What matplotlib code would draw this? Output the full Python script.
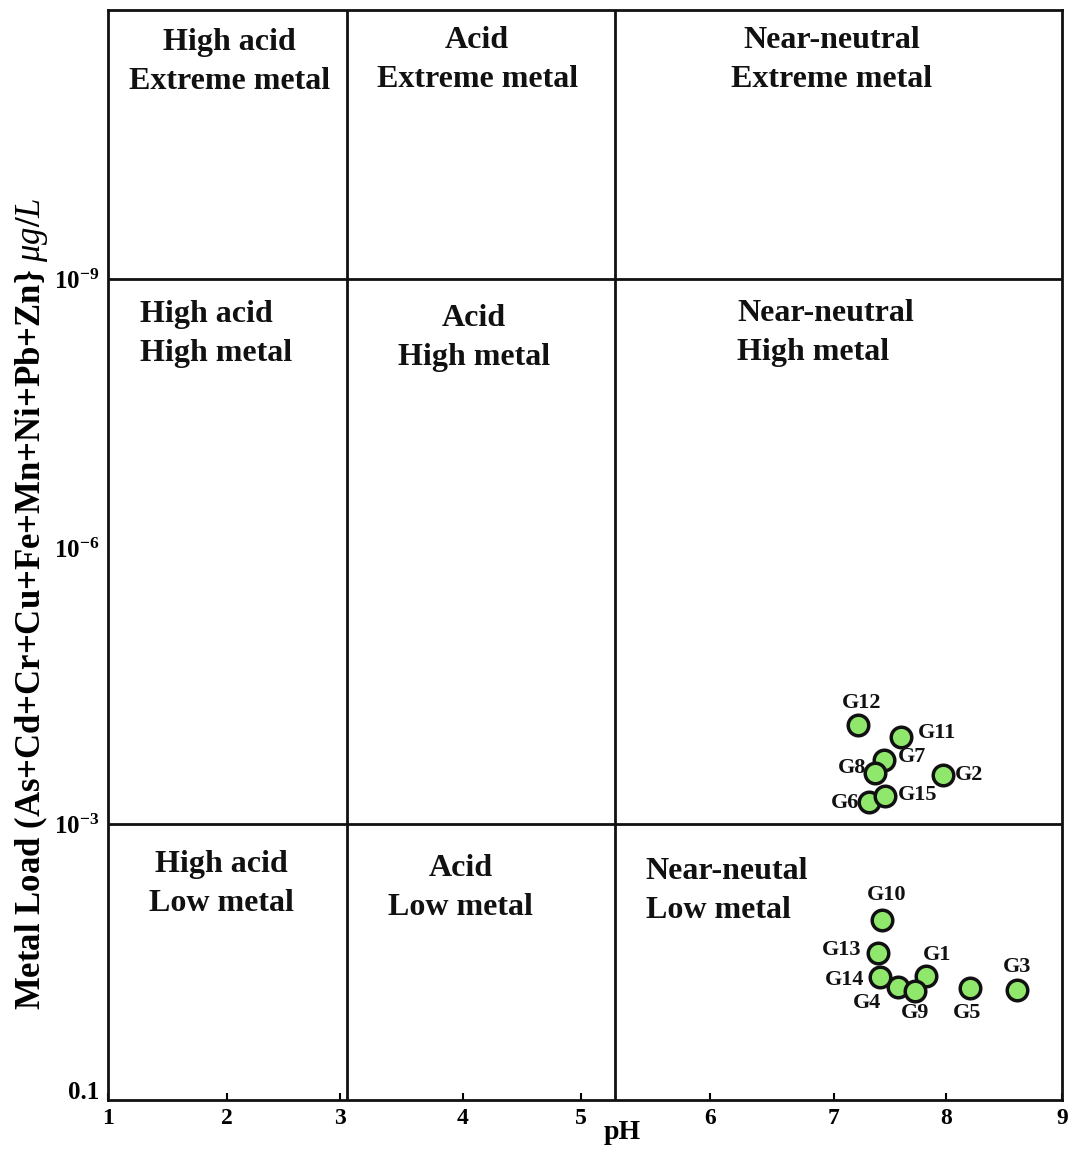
import numpy as np
import matplotlib
matplotlib.use("Agg")
import matplotlib.pyplot as plt
from matplotlib.ticker import FixedLocator, FixedFormatter, NullLocator

# ---------------- data ----------------
samples = ["G1", "G2", "G3", "G4", "G5", "G6", "G7", "G8", "G9", "G10",
           "G11", "G12", "G13", "G14", "G15"]
ph = [7.82, 7.97, 8.61, 7.57, 8.21, 7.31, 7.45, 7.37, 7.72, 7.43,
      7.60, 7.21, 7.39, 7.41, 7.455]
metal_load = [1.39e-2, 2.93e-4, 1.77e-2, 1.69e-2, 1.72e-2, 5.73e-4, 2.01e-4,
              2.81e-4, 1.79e-2, 5.27e-3, 1.12e-4, 8.4e-5, 9.38e-3, 1.41e-2,
              4.97e-4]

x_ticks = [1, 2, 3, 4, 5, 6, 7, 8, 9]
y_ticks = [0.1, 1e-3, 1e-6, 1e-9]
y_tick_labels = ["0.1", r"10$^{\mathbf{-3}}$", r"10$^{\mathbf{-6}}$", r"10$^{\mathbf{-9}}$"]

ph_bounds = [3.06, 5.26]
metal_bounds = [1e-3, 1e-9]

region_texts = [
    ("High acid\nExtreme metal", 2.02, 62, "center"),
    ("Acid\nExtreme metal", 4.12, 60, "center"),
    ("Near-neutral\nExtreme metal", 6.98, 60, "center"),
    ("High acid\nHigh metal", 1.27, 334, "left"),
    ("Acid\nHigh metal", 4.09, 338, "center"),
    ("Near-neutral\nHigh metal", 6.22, 333, "left"),
    ("High acid\nLow metal", 1.95, 884, "center"),
    ("Acid\nLow metal", 3.98, 888, "center"),
    ("Near-neutal\nLow metal", 5.5, 891, "left"),
]

# label offsets in pixels (dx, dy screen-down), alignment
label_pos = {
    "G1": (11, -21, "center"), "G2": (12, 0, "left"), "G3": (0, -23, "center"),
    "G4": (-31, 16, "center"), "G5": (-3, 25, "center"), "G6": (-9, 1, "right"),
    "G7": (13, -3, "left"), "G8": (-9, -5, "right"), "G9": (0, 22, "center"),
    "G10": (4, -25, "center"), "G11": (17, -4, "left"), "G12": (4, -22, "center"),
    "G13": (-16, -3, "right"), "G14": (-16, 3, "right"), "G15": (13, -1, "left"),
}

# ---------------- piecewise scales (matching printed axis) ----------------
X_KNOT_PH = np.array([1, 2, 3, 4, 5, 6, 7, 8, 9], dtype=float)
X_KNOT_PX = np.array([0, 119, 232, 355, 473, 602, 726, 838, 954], dtype=float)

Y_KNOT_E = np.array([0.925, 1.0, 3.0, 6.0, 9.0, 12.0])
Y_KNOT_PX = np.array([0.0, 10.0, 276.0, 552.0, 821.0, 1090.0])


def xf(v):
    v = np.asarray(v, dtype=float)
    return np.interp(v, X_KNOT_PH, X_KNOT_PX, left=-1e3, right=2e3)


def xi(p):
    p = np.asarray(p, dtype=float)
    return np.interp(p, X_KNOT_PX, X_KNOT_PH)


def yf(v):
    v = np.asarray(v, dtype=float)
    with np.errstate(divide="ignore", invalid="ignore"):
        e = -np.log10(np.where(v > 0, v, 1e-300))
    return np.interp(e, Y_KNOT_E, Y_KNOT_PX)


def yi(p):
    p = np.asarray(p, dtype=float)
    e = np.interp(p, Y_KNOT_PX, Y_KNOT_E)
    return 10.0 ** (-e)


plt.rcParams["font.family"] = ["Liberation Serif", "DejaVu Serif"]
plt.rcParams["mathtext.fontset"] = "custom"
plt.rcParams["mathtext.rm"] = "Liberation Serif:bold"
plt.rcParams["mathtext.it"] = "Liberation Serif:italic"
plt.rcParams["mathtext.bf"] = "Liberation Serif:bold"

W, H = 1071, 1155
fig = plt.figure(figsize=(W / 100, H / 100), dpi=100)
L, R, T, B = 108, 1062, 10, 1100
ax = fig.add_axes([L / W, 1 - B / H, (R - L) / W, (B - T) / H])

ax.set_xscale("function", functions=(xf, xi))
ax.set_yscale("function", functions=(yf, yi))
ax.set_xlim(1, 9)
ax.set_ylim(1e-12, 10 ** -0.925)

lw = 2.0
for s in ax.spines.values():
    s.set_linewidth(lw)
    s.set_color("#111111")

ax.xaxis.set_major_locator(FixedLocator(x_ticks))
ax.xaxis.set_major_formatter(FixedFormatter([str(t) for t in x_ticks]))
ax.xaxis.set_minor_locator(NullLocator())
ax.yaxis.set_major_locator(FixedLocator(y_ticks))
ax.yaxis.set_major_formatter(FixedFormatter(y_tick_labels))
ax.yaxis.set_minor_locator(NullLocator())
ax.tick_params(axis="x", direction="in", length=5, width=1.5, pad=6,
               labelsize=17)
ax.tick_params(axis="y", length=0, pad=6, labelsize=18)
for lab in ax.get_xticklabels() + ax.get_yticklabels():
    lab.set_fontweight("bold")

# dividers
for b in ph_bounds:
    ax.axvline(b, color="#111111", lw=lw)
for b in metal_bounds:
    ax.axhline(b, color="#111111", lw=lw)

# region labels (y given in pixels from top of figure)
for txt, xv, ypx, ha in region_texts:
    ax.text(xv, yi(B - ypx), txt, ha=ha, va="center", fontsize=23,
            fontweight="bold", linespacing=1.42, color="#111111")

# points
ax.plot(ph, metal_load, linestyle="none", marker="o", markersize=14.8,
        markerfacecolor="#8fe86c", markeredgecolor="#111111",
        markeredgewidth=2.5, zorder=5)

for name, xv, yv in zip(samples, ph, metal_load):
    dx, dy, ha = label_pos[name]
    ax.annotate(name, (xv, yv), xytext=(dx * 0.72, -dy * 0.72),
                textcoords="offset points", ha=ha, va="center",
                fontsize=16, fontweight="bold", color="#111111", zorder=6)

ax.set_xlabel("pH", fontsize=20, fontweight="bold")
ax.xaxis.set_label_coords((622 - L) / (R - L), -0.018)
ax.set_ylabel(r"Metal Load (As+Cd+Cr+Cu+Fe+Mn+Ni+Pb+Zn} $\mu g/L$",
              fontsize=25, fontweight="bold")
ax.yaxis.set_label_coords((50 - L) / (R - L), 1 - (604 - T) / (B - T))

fig.savefig("out.png", dpi=100)
